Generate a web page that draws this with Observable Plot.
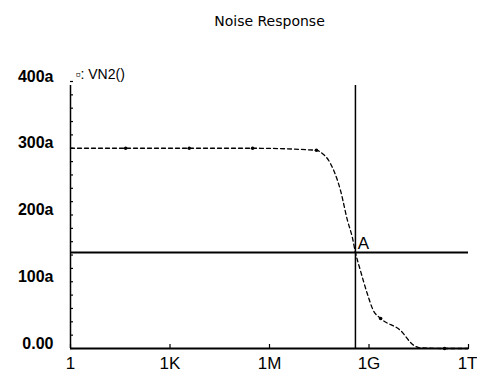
<!DOCTYPE html>
<html>
<head>
<meta charset="utf-8">
<script src="https://cdn.jsdelivr.net/npm/d3@7"></script>
<script src="https://cdn.jsdelivr.net/npm/@observablehq/plot@0.6"></script>
<style>
  html, body { margin: 0; padding: 0; background: #fff; }
  svg { font-family: "Liberation Sans", "DejaVu Sans", sans-serif; }
</style>
</head>
<body>
<div id="chart"></div>
<script>
// Trace VN2(): frequency (Hz) and noise value (a = atto)
const freq = [1, 46, 3800, 3.1e5, 2.6e7, 3.5e7, 6.9e7, 1.38e8, 2.24e8, 3.16e8, 3.9e8, 5.5e8, 8.9e8, 1.35e9, 2.24e9, 8.9e9, 2.2e10, 3.5e10, 1.9e11, 1e12];
const vn2  = [300, 300, 300, 300, 297, 294, 277, 237, 192, 166, 144, 117, 82, 57, 45, 27, 5, 1, 0, 0];
// Symbol markers on the trace
const markerFreq = [46, 3800, 3.1e5, 2.6e7, 2.24e9, 1.9e11];
const markerVal  = [300, 300, 300, 297, 45, 0];
// Cursor A
const cursorFreq = [3.9e8];
const cursorVal = [144];
// Axis ticks
const xTicks = [1, 1e3, 1e6, 1e9, 1e12];
const xTickLabels = ["1", "1K", "1M", "1G", "1T"];
const yMajor = [0, 100, 200, 300, 400];
const yTickLabels = ["0.00", "100a", "200a", "300a", "400a"];
const yMinor = d3.range(0, 401, 20);

const title = "Noise Response";
const traceLabel = "▫: VN2()";

const data = freq.map((f, i) => ({f, v: vn2[i]}));
const markers = markerFreq.map((f, i) => ({f, v: markerVal[i]}));

const chart = Plot.plot({
  width: 477,
  height: 377,
  marginLeft: 70,
  marginRight: 9,
  marginTop: 81,
  marginBottom: 29,
  style: {background: "#fff", color: "#000"},
  x: {type: "log", domain: [1, 1e12], label: null},
  y: {domain: [0, 400], label: null},
  marks: [
    // y labels
    Plot.axisY(yMajor, {tickSize: 0, tickPadding: 17, dy: -5, fontSize: 16, fontWeight: "bold", label: null,
      tickFormat: d => yTickLabels[yMajor.indexOf(d)]}),
    // y inward ticks
    Plot.axisY(yMinor, {tickSize: -3, text: null, strokeWidth: 1.2, label: null}),
    // x labels
    Plot.axisX(xTicks.slice(0, -1), {tickSize: 0, tickPadding: 8, fontSize: 17, label: null,
      tickFormat: d => xTickLabels[xTicks.indexOf(d)]}),
    Plot.axisX(xTicks.slice(-1), {tickSize: 0, tickPadding: 8, fontSize: 17, label: null, textAnchor: "end", dx: 9,
      tickFormat: d => xTickLabels[xTicks.indexOf(d)]}),
    Plot.axisX(xTicks, {tickSize: -4, text: null, strokeWidth: 1.2, label: null}),
    // axis lines
    Plot.ruleX([1], {y1: 0, y2: 394, strokeWidth: 1.5}),
    Plot.ruleY([0], {strokeWidth: 2}),
    // cursor lines
    Plot.ruleY(cursorVal, {strokeWidth: 2}),
    Plot.ruleX(cursorFreq, {y1: 0, y2: 394, strokeWidth: 1.5}),
    // trace
    Plot.line(data, {x: "f", y: "v", curve: "monotone-x", stroke: "#000", strokeWidth: 1.3, strokeDasharray: "4,3"}),
    Plot.dot(markers, {x: "f", y: "v", r: 1.8, fill: "#000", stroke: "none"}),
    // cursor label
    Plot.text(cursorFreq, {x: d => d, y: cursorVal[0], text: () => "A", dx: 8, dy: -9, fontSize: 17}),
    // trace label
    Plot.text([traceLabel], {frameAnchor: "top-left", dx: 5, dy: -12, fontSize: 14, textAnchor: "start"}),
    // title
    Plot.text([title], {frameAnchor: "top", dx: 0, dy: -65, fontSize: 14, fontFamily: "DejaVu Sans", letterSpacing: 1})
  ]
});
document.getElementById("chart").appendChild(chart);
</script>
</body>
</html>
